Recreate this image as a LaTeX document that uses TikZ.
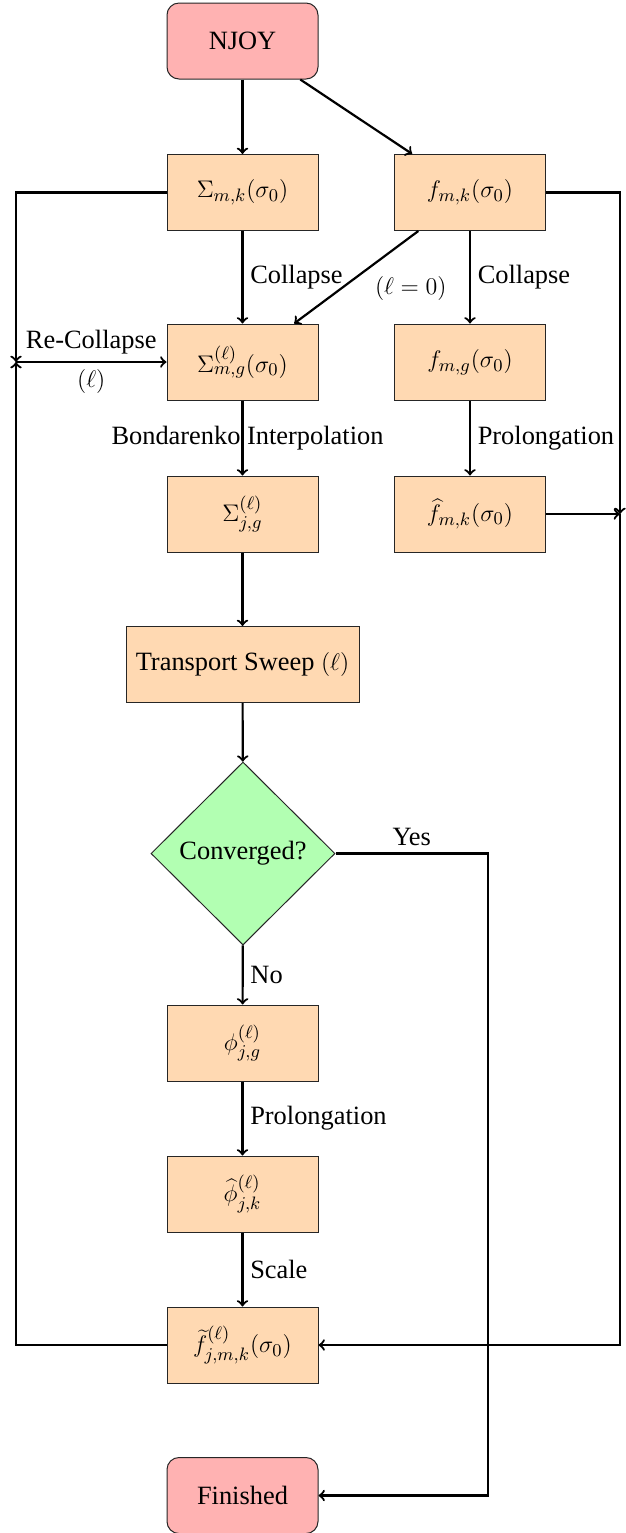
\documentclass[tikz,border=0pt]{standalone}
\usepackage{fontspec}
\setmainfont{Liberation Serif}
\usetikzlibrary{shapes.geometric}
\begin{document}
\begin{tikzpicture}[x=0.5pt,y=-0.5pt,
  every node/.style={font=\rmfamily\fontsize{13.2}{16}\selectfont},
  box/.style={rectangle, draw=black!85, line width=0.5pt, fill=orange!30, minimum width=75.5pt, minimum height=38pt, inner sep=3pt},
  term/.style={box, rounded corners=6pt, fill=red!30},
  dec/.style={diamond, draw=black!85, line width=0.5pt, fill=green!30, minimum width=92pt, minimum height=91.5pt, inner sep=0pt},
  arr/.style={->, line width=1.1pt}]
\useasboundingbox (0,0) rectangle (626,1533);
\node[term] (njoy) at (242.5,41) {NJOY};
\node[box] (smk) at (242.5,192.5) {$\Sigma_{m,k}(\sigma_0)$};
\node[box] (fmk) at (470,192.5) {$f_{m,k}(\sigma_0)$};
\node[box] (smg) at (242.5,362) {$\Sigma^{(\ell)}_{m,g}(\sigma_0)$};
\node[box] (fmg) at (470,362) {$f_{m,g}(\sigma_0)$};
\node[box] (sjg) at (242.5,514) {$\Sigma^{(\ell)}_{j,g}$};
\node[box] (fhat) at (470,514) {$\widehat{f}_{m,k}(\sigma_0)$};
\node[box, minimum width=116.5pt] (ts) at (242.5,664.5) {Transport Sweep $(\ell)$};
\node[dec] (conv) at (243,853.5) {Converged?};
\node[box] (phi) at (242.5,1043) {$\phi^{(\ell)}_{j,g}$};
\node[box] (phihat) at (242.5,1194) {$\widehat{\phi}^{(\ell)}_{j,k}$};
\node[box] (ftil) at (242.5,1345) {$\widetilde{f}^{(\ell)}_{j,m,k}(\sigma_0)$};
\node[term] (fin) at (242.5,1495.5) {Finished};
\coordinate (L) at (16,362);
\coordinate (R) at (620,514);
\coordinate (Y) at (488,853.5);

\draw[arr] (njoy) -- (smk);
\draw[arr] (njoy) -- (fmk);
\draw[arr] (smk) -- node[right]{Collapse} (smg);
\draw[arr] (fmk) -- node[anchor=west, xshift=5.5pt, yshift=-5.5pt]{$(\ell = 0)$} (smg);
\draw[arr] (fmk) -- node[right]{Collapse} (fmg);
\draw[arr] (smg) -- node[xshift=2.5pt]{Bondarenko Interpolation} (sjg);
\draw[arr] (fmg) -- node[right]{Prolongation} (fhat);
\draw[arr] (sjg) -- (ts);
\draw[arr] (ts) -- (conv);
\draw[arr] (conv) -- node[right]{No} (phi);
\draw[arr] (phi) -- node[right]{Prolongation} (phihat);
\draw[arr] (phihat) -- node[right]{Scale} (ftil);
\draw[arr] (conv.east) -- node[above]{Yes} (Y) |- (fin);
\draw[arr] (smk.west) -| (L);
\draw[arr] (ftil.west) -| (L);
\draw[arr] (L) -- node[above]{Re-Collapse} node[below]{$(\ell)$} (smg);
\draw[arr] (fmk.east) -| (R);
\draw[arr] (fhat) -- (R);
\draw[arr] (R) |- (ftil);
\end{tikzpicture}
\end{document}
